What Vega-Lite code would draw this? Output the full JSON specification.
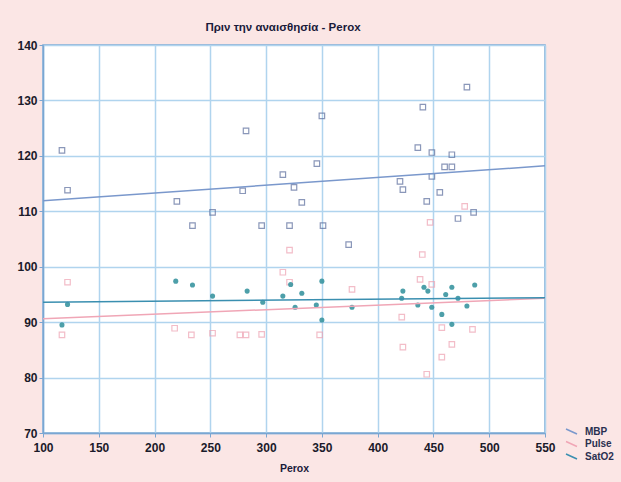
{
  "$schema": "https://vega.github.io/schema/vega-lite/v6.json",
  "width": 502,
  "height": 388,
  "autosize": {"type": "none"},
  "padding": {"left": 43, "top": 45, "right": 76, "bottom": 49},
  "background": "#fbe6e5",
  "config": {
    "font": "Liberation Sans",
    "view": {"fill": "white", "stroke": "#7aa6d2", "strokeWidth": 1.5},
    "axis": {
      "domainColor": "#7aa6d2",
      "domainWidth": 1.5,
      "tickColor": "#7aa6d2",
      "gridColor": "#b0d4ee",
      "gridWidth": 1.5,
      "labelFont": "Liberation Sans",
      "labelFontSize": 12,
      "labelFontWeight": "bold",
      "labelColor": "#1a1a2a",
      "tickSize": 4
    }
  },
  "title": {
    "text": "Πριν την αναισθησία - Perox",
    "font": "Liberation Sans",
    "fontSize": 11.5,
    "fontWeight": "bold",
    "color": "#1a1a3a",
    "anchor": "middle",
    "frame": "group",
    "dx": -11,
    "offset": 6
  },
  "datasets": {
    "points": [
      {"s": "MBP", "x": 117, "y": 121},
      {"s": "MBP", "x": 122, "y": 113.8},
      {"s": "MBP", "x": 220, "y": 111.8},
      {"s": "MBP", "x": 234, "y": 107.4},
      {"s": "MBP", "x": 252, "y": 109.8},
      {"s": "MBP", "x": 279, "y": 113.7},
      {"s": "MBP", "x": 282, "y": 124.5},
      {"s": "MBP", "x": 296, "y": 107.4},
      {"s": "MBP", "x": 315, "y": 116.6},
      {"s": "MBP", "x": 321, "y": 107.4},
      {"s": "MBP", "x": 325, "y": 114.3},
      {"s": "MBP", "x": 332, "y": 111.6},
      {"s": "MBP", "x": 345.5, "y": 118.6},
      {"s": "MBP", "x": 350, "y": 127.2},
      {"s": "MBP", "x": 351, "y": 107.4},
      {"s": "MBP", "x": 374, "y": 104},
      {"s": "MBP", "x": 420, "y": 115.4},
      {"s": "MBP", "x": 422.6, "y": 113.9},
      {"s": "MBP", "x": 436, "y": 121.5},
      {"s": "MBP", "x": 440.5, "y": 128.8},
      {"s": "MBP", "x": 444, "y": 111.8},
      {"s": "MBP", "x": 448.6, "y": 120.6},
      {"s": "MBP", "x": 448.6, "y": 116.3},
      {"s": "MBP", "x": 455.7, "y": 113.4},
      {"s": "MBP", "x": 460, "y": 118},
      {"s": "MBP", "x": 466.5, "y": 118},
      {"s": "MBP", "x": 466.5, "y": 120.2},
      {"s": "MBP", "x": 472, "y": 108.7},
      {"s": "MBP", "x": 480, "y": 132.4},
      {"s": "MBP", "x": 486, "y": 109.8},
      {"s": "Pulse", "x": 117, "y": 87.7},
      {"s": "Pulse", "x": 122, "y": 97.2},
      {"s": "Pulse", "x": 218, "y": 88.9},
      {"s": "Pulse", "x": 233, "y": 87.7},
      {"s": "Pulse", "x": 252, "y": 88},
      {"s": "Pulse", "x": 276.5, "y": 87.7},
      {"s": "Pulse", "x": 282, "y": 87.7},
      {"s": "Pulse", "x": 296, "y": 87.8},
      {"s": "Pulse", "x": 315, "y": 99},
      {"s": "Pulse", "x": 321, "y": 103},
      {"s": "Pulse", "x": 321, "y": 97.2},
      {"s": "Pulse", "x": 348, "y": 87.7},
      {"s": "Pulse", "x": 377, "y": 95.9},
      {"s": "Pulse", "x": 421.6, "y": 90.9},
      {"s": "Pulse", "x": 422.6, "y": 85.5},
      {"s": "Pulse", "x": 438, "y": 97.7},
      {"s": "Pulse", "x": 440, "y": 102.2},
      {"s": "Pulse", "x": 444, "y": 80.6},
      {"s": "Pulse", "x": 447, "y": 108},
      {"s": "Pulse", "x": 448.5, "y": 96.8},
      {"s": "Pulse", "x": 457.5, "y": 83.7},
      {"s": "Pulse", "x": 457.5, "y": 89},
      {"s": "Pulse", "x": 466.5, "y": 86},
      {"s": "Pulse", "x": 478, "y": 110.9},
      {"s": "Pulse", "x": 485, "y": 88.7},
      {"s": "SatO2", "x": 117, "y": 89.5},
      {"s": "SatO2", "x": 122, "y": 93.2},
      {"s": "SatO2", "x": 219, "y": 97.4},
      {"s": "SatO2", "x": 234, "y": 96.7},
      {"s": "SatO2", "x": 252, "y": 94.7},
      {"s": "SatO2", "x": 283, "y": 95.6},
      {"s": "SatO2", "x": 297, "y": 93.6},
      {"s": "SatO2", "x": 315, "y": 94.7},
      {"s": "SatO2", "x": 322, "y": 96.8},
      {"s": "SatO2", "x": 326, "y": 92.7},
      {"s": "SatO2", "x": 332, "y": 95.2},
      {"s": "SatO2", "x": 345, "y": 93.1},
      {"s": "SatO2", "x": 350, "y": 97.4},
      {"s": "SatO2", "x": 350, "y": 90.4},
      {"s": "SatO2", "x": 377, "y": 92.7},
      {"s": "SatO2", "x": 421.5, "y": 94.3},
      {"s": "SatO2", "x": 422.6, "y": 95.6},
      {"s": "SatO2", "x": 436, "y": 93.1},
      {"s": "SatO2", "x": 441.5, "y": 96.3},
      {"s": "SatO2", "x": 445, "y": 95.6},
      {"s": "SatO2", "x": 448.5, "y": 92.7},
      {"s": "SatO2", "x": 457.5, "y": 91.4},
      {"s": "SatO2", "x": 461, "y": 95},
      {"s": "SatO2", "x": 466.5, "y": 96.3},
      {"s": "SatO2", "x": 466.5, "y": 89.6},
      {"s": "SatO2", "x": 472, "y": 94.3},
      {"s": "SatO2", "x": 480, "y": 92.9},
      {"s": "SatO2", "x": 487, "y": 96.7}
    ],
    "fits": [
      {"s": "MBP", "x": 100, "y": 111.9},
      {"s": "MBP", "x": 550, "y": 118.2},
      {"s": "Pulse", "x": 100, "y": 90.6},
      {"s": "Pulse", "x": 550, "y": 94.3},
      {"s": "SatO2", "x": 100, "y": 93.6},
      {"s": "SatO2", "x": 550, "y": 94.4}
    ]
  },
  "encoding": {
    "x": {
      "field": "x",
      "type": "quantitative",
      "scale": {"domain": [100, 550], "nice": false, "zero": false},
      "axis": {
        "values": [100, 150, 200, 250, 300, 350, 400, 450, 500, 550],
        "title": "Perox",
        "titleFont": "Liberation Sans",
        "titleFontSize": 10.5,
        "titleFontWeight": "bold",
        "titleColor": "#1a1a3a",
        "titlePadding": 10,
        "labelPadding": 5,
        "labelFlush": false
      }
    },
    "y": {
      "field": "y",
      "type": "quantitative",
      "scale": {"domain": [70, 140], "nice": false, "zero": false},
      "axis": {
        "values": [70, 80, 90, 100, 110, 120, 130, 140],
        "title": null,
        "labelPadding": 2
      }
    }
  },
  "layer": [
    {
      "data": {"name": "points"},
      "transform": [{"filter": "datum.s === 'MBP'"}],
      "mark": {"type": "square", "filled": false, "stroke": "#5a6c9c", "strokeWidth": 1.2, "size": 30}
    },
    {
      "data": {"name": "points"},
      "transform": [{"filter": "datum.s === 'Pulse'"}],
      "mark": {"type": "square", "filled": false, "stroke": "#eea2b2", "strokeWidth": 1.2, "size": 30}
    },
    {
      "data": {"name": "points"},
      "transform": [{"filter": "datum.s === 'SatO2'"}],
      "mark": {"type": "circle", "fill": "#3a95a0", "opacity": 0.9, "size": 26}
    },
    {
      "data": {"name": "fits"},
      "mark": {"type": "line", "strokeWidth": 1.5},
      "encoding": {
        "color": {
          "field": "s",
          "type": "nominal",
          "scale": {"domain": ["MBP", "Pulse", "SatO2"], "range": ["#7a98cc", "#f0a6b6", "#3a8fb0"]},
          "legend": {
            "orient": "none",
            "legendX": 522,
            "legendY": 380,
            "title": null,
            "padding": 0,
            "symbolType": "M-1,-0.45L1,0.45",
            "symbolSize": 121,
            "symbolStrokeWidth": 1.5,
            "rowPadding": 0.5,
            "labelOffset": 7,
            "labelFont": "Liberation Sans",
            "labelFontSize": 10,
            "labelFontWeight": "bold",
            "labelColor": "#2a3050"
          }
        }
      }
    }
  ]
}
